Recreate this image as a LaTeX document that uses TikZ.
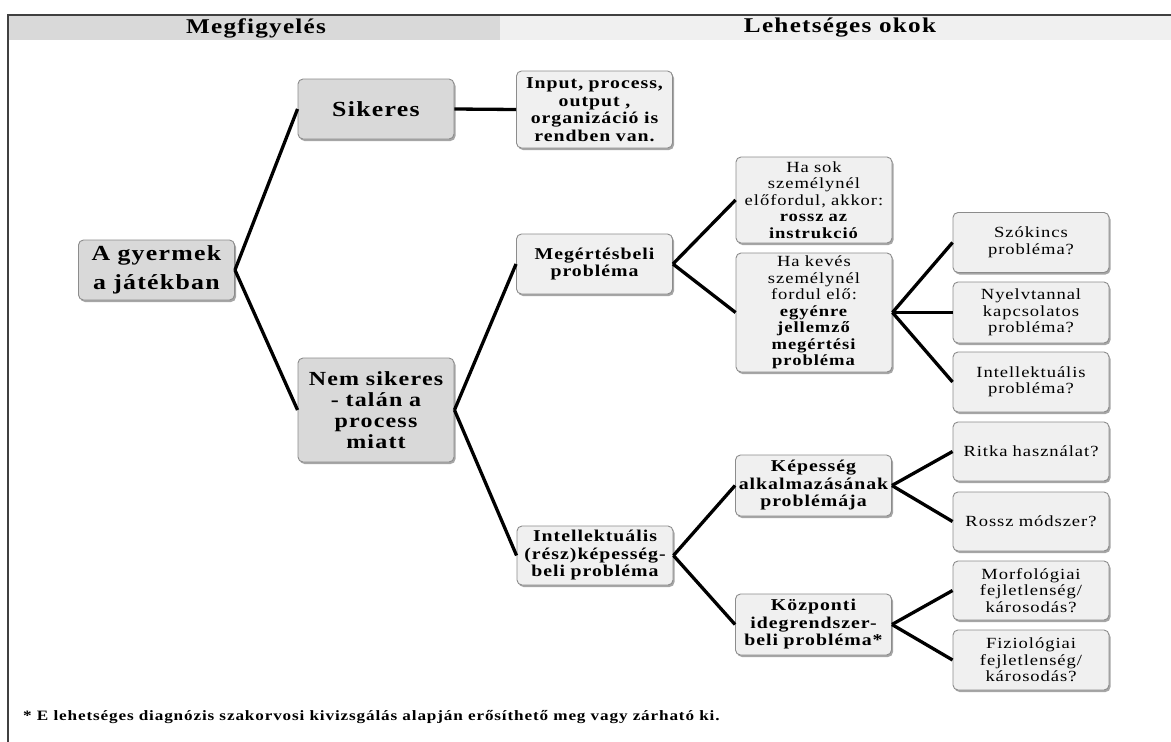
\documentclass[tikz,border=0pt]{standalone}
\usepackage{fontspec}
\setmainfont{Liberation Serif}[FakeStretch=1.2, LetterSpace=6]
\usetikzlibrary{shadows}
\definecolor{darkfill}{HTML}{D9D9D9}
\definecolor{lightfill}{HTML}{F0F0F0}
\definecolor{boxline}{HTML}{8C8C8C}
\definecolor{frameline}{HTML}{404040}
\newcommand{\fs}[2]{\fontsize{#1}{#2}\selectfont}
\begin{document}
\begin{tikzpicture}[x=1pt,y=-1pt,
  basebox/.style={rounded corners=5pt, draw=boxline, line width=0.9pt, inner sep=0pt,
     align=center, text width=150pt, minimum width=156pt,
     drop shadow={shadow xshift=1.5pt, shadow yshift=-2pt, fill=black, opacity=0.35}},
  darkbox/.style={basebox, fill=darkfill, font=\bfseries\fs{21.5}{29}},
  midbox/.style={basebox, fill=lightfill, font=\bfseries\fs{16.5}{17.5}},
  lightbox/.style={basebox, fill=lightfill, font=\fs{15.5}{16.5}},
  conn/.style={line width=3.3pt, black},
  headtext/.style={font=\bfseries\fs{21}{24}, inner sep=0pt}
]
\useasboundingbox (0,0) rectangle (1171,742);
% header
\fill[darkfill] (9,16) rectangle (500,40);
\fill[lightfill] (500,16) rectangle (1171,40);
\draw[frameline, line width=2pt] (1171,15) -- (8,15) -- (8,742);
\node[headtext] (h1) at (256,28) {Megfigyelés};
\node[headtext] (h2) at (840,28) {Lehetséges okok};

% level 1
\node[darkbox, minimum height=60pt] (root) at (156.5,270) {A gyermek\\a játékban};
\node[darkbox, minimum height=60pt] (sik) at (376,109) {Sikeres};
\node[darkbox, minimum height=104pt, font=\bfseries\fs{20}{21}] (nem) at (376,410) {Nem sikeres\\- talán a\\process\\miatt};

% level 2
\node[midbox, minimum height=77pt] (inp) at (594.5,109.5) {Input, process,\\output ,\\organizáció is\\rendben van.};
\node[midbox, minimum height=60pt] (meg) at (594.5,264) {Megértésbeli\\probléma};
\node[midbox, minimum height=59pt] (int) at (595,555.5) {Intellektuális\\(rész)képesség-\\beli probléma};

% level 3
\node[lightbox, minimum height=86pt] (hasok) at (814,200) {Ha sok\\személynél\\előfordul, akkor:\\\textbf{rossz az}\\\textbf{instrukció}};
\node[lightbox, minimum height=119pt] (hakev) at (814,312.5) {Ha kevés\\személynél\\fordul elő:\\\textbf{egyénre}\\\textbf{jellemző}\\\textbf{megértési}\\\textbf{probléma}};
\node[midbox, minimum height=61pt] (kep) at (813.5,485.5) {Képesség\\alkalmazásának\\problémája};
\node[midbox, minimum height=61pt] (koz) at (813.5,624.5) {Központi\\idegrendszer-\\beli probléma*};

% level 4
\node[lightbox, minimum height=60pt] (szo) at (1031,242.5) {Szókincs\\probléma?};
\node[lightbox, minimum height=61pt] (nyel) at (1031,312.5) {Nyelvtannal\\kapcsolatos\\probléma?};
\node[lightbox, minimum height=60pt] (intp) at (1031,382) {Intellektuális\\probléma?};
\node[lightbox, minimum height=59pt] (ritka) at (1031,451.5) {Ritka használat?};
\node[lightbox, minimum height=59pt] (rossz) at (1031,521.5) {Rossz módszer?};
\node[lightbox, minimum height=59pt] (morf) at (1031,590.5) {Morfológiai\\fejletlenség/\\károsodás?};
\node[lightbox, minimum height=60pt] (fiz) at (1031,660) {Fiziológiai\\fejletlenség/\\károsodás?};

% connectors
\draw[conn] (root.east) -- (sik.west);
\draw[conn] (root.east) -- (nem.west);
\draw[conn] (sik.east) -- (inp.west);
\draw[conn] (nem.east) -- (meg.west);
\draw[conn] (nem.east) -- (int.west);
\draw[conn] (meg.east) -- (hasok.west);
\draw[conn] (meg.east) -- (hakev.west);
\draw[conn] (hakev.east) -- (szo.west);
\draw[conn] (hakev.east) -- (nyel.west);
\draw[conn] (hakev.east) -- (intp.west);
\draw[conn] (int.east) -- (kep.west);
\draw[conn] (int.east) -- (koz.west);
\draw[conn] (kep.east) -- (ritka.west);
\draw[conn] (kep.east) -- (rossz.west);
\draw[conn] (koz.east) -- (morf.west);
\draw[conn] (koz.east) -- (fiz.west);

% footnote
\node[anchor=base west, inner sep=0pt, font=\bfseries\fs{14.3}{16}] (note) at (23,720) {* E lehetséges diagnózis szakorvosi kivizsgálás alapján erősíthető meg vagy zárható ki.};
\end{tikzpicture}
\end{document}
